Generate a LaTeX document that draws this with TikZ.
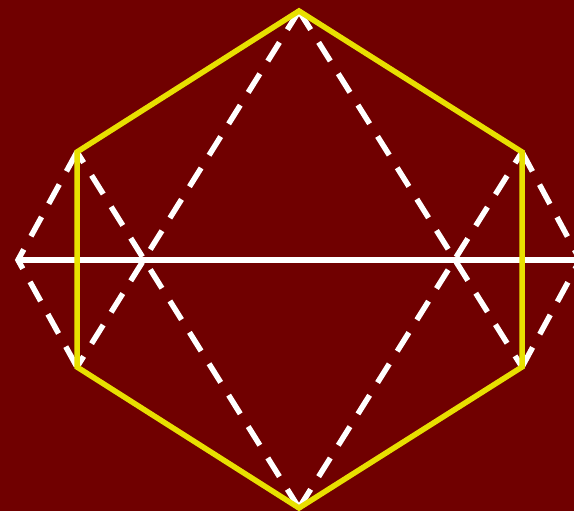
\documentclass[tikz,border=0pt]{standalone}
\usepackage{tikz}
\definecolor{darkred}{HTML}{700000}
\definecolor{hexyellow}{HTML}{E8E000}
\tikzset{
  every picture/.style={line join=miter, x=1pt, y=1pt},
  hexline/.style={draw=hexyellow, line width=5.5pt},
  dashline/.style={draw=white, line width=5.5pt, dash pattern=on 22pt off 15pt},
  axisline/.style={draw=white, line width=6pt},
}

\begin{document}
\begin{tikzpicture}
\useasboundingbox (0,0) rectangle (574,511);
\clip (0,0) rectangle (574,511);
\fill[darkred] (0,0) rectangle (574,511);
% hexagon corners
\coordinate (top) at (299,500);
\coordinate (ul) at (77,359);
\coordinate (ll) at (77,144);
\coordinate (bot) at (299,3);
\coordinate (lr) at (522,144);
\coordinate (ur) at (522,359);
\coordinate (lt) at (18,251);
\coordinate (rt) at (580,251);
% horizontal axis
\draw[axisline] (lt) -- (rt);
% dashed triangles and side diamonds
\draw[dashline] (top) -- (ll);
\draw[dashline] (top) -- (lr);
\draw[dashline] (bot) -- (ul);
\draw[dashline] (bot) -- (ur);
\draw[dashline] (ul) -- (lt) -- (ll);
\draw[dashline] (ur) -- (rt) -- (lr);
% hexagon
\draw[hexline] (top) -- (ur) -- (lr) -- (bot) -- (ll) -- (ul) -- cycle;
\end{tikzpicture}
\end{document}
